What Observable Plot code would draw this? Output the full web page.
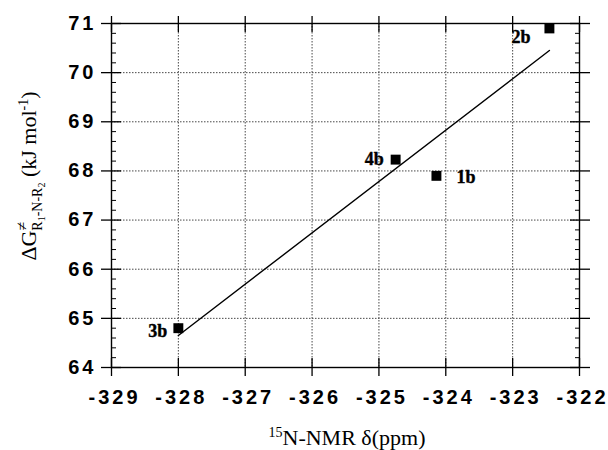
<!DOCTYPE html>
<html><head><meta charset="utf-8">
<script src="https://cdn.jsdelivr.net/npm/d3@7"></script>
<script src="https://cdn.jsdelivr.net/npm/@observablehq/plot@0.6"></script>
<style>body{margin:0;background:#fff}</style>
</head><body><div id="chart"></div>
<script>
// Data
const compounds = ["1b", "2b", "3b", "4b"];
const shifts = [-324.14, -322.45, -328.0, -324.75];   // 15N-NMR δ (ppm)
const dG = [67.9, 70.9, 64.8, 68.23];                 // ΔG≠ (kJ/mol)
const fitX = [-328.0, -322.45];
const fitY = [64.65, 70.45];
const xTicks = [-329, -328, -327, -326, -325, -324, -323, -322];
const yTicks = [64, 65, 66, 67, 68, 69, 70, 71];
const yMinor = [64.2, 64.4, 64.6, 64.8, 65.2, 65.4, 65.6, 65.8, 66.2, 66.4, 66.6, 66.8,
  67.2, 67.4, 67.6, 67.8, 68.2, 68.4, 68.6, 68.8, 69.2, 69.4, 69.6, 69.8, 70.2, 70.4, 70.6, 70.8];

const pts = compounds.map((c, i) => ({c, x: shifts[i], y: dG[i]}));
const fit = fitX.map((x, i) => ({x, y: fitY[i]}));

const sans = "Liberation Sans, Arial, sans-serif";
const serif = "Liberation Serif, Times New Roman, serif";
const gridStyle = {stroke: "#333", strokeOpacity: 1, strokeWidth: 0.9, strokeDasharray: "1.5,1.5"};
const lab = (name, opts) => Plot.text(pts, {filter: d => d.c === name, x: "x", y: "y", text: "c",
  fontFamily: serif, fontWeight: "bold", fontSize: 18, fill: "#000", stroke: "#000", strokeWidth: 0.4, ...opts});
const hyphen = d => String(d);

const plot = Plot.plot({
  width: 608, height: 450,
  marginLeft: 111, marginRight: 29, marginTop: 23, marginBottom: 83,
  x: {domain: [-329, -322]},
  y: {domain: [64, 71]},
  style: {background: "#fff", color: "#000", fontFamily: sans},
  marks: [
    Plot.gridX(xTicks.slice(1, -1), gridStyle),
    Plot.gridY(yTicks.slice(1, -1), gridStyle),
    Plot.frame({stroke: "#000", strokeWidth: 1.4}),
    // left axis
    Plot.axisY(yMinor, {anchor: "left", tickSize: 5, dx: 5, tickFormat: () => "", label: null}),
    Plot.axisY(yTicks, {anchor: "left", tickSize: 20, dx: 10, strokeWidth: 1.3, tickFormat: () => "", label: null}),
    Plot.axisY(yTicks, {anchor: "left", tickSize: 0, tickPadding: 15, fontSize: 20, fontWeight: "bold", tickFormat: hyphen, label: null}),
    // right axis
    Plot.axisY(yMinor, {anchor: "right", tickSize: 5, dx: -5, tickFormat: () => "", label: null}),
    Plot.axisY(yTicks, {anchor: "right", tickSize: 20, dx: -10, strokeWidth: 1.3, tickFormat: () => "", label: null}),
    // bottom axis
    Plot.axisX(xTicks, {anchor: "bottom", tickSize: 18, dy: -9, strokeWidth: 1.3, tickFormat: () => "", label: null}),
    Plot.axisX(xTicks, {anchor: "bottom", tickSize: 0, tickPadding: 22, dx: 3, fontSize: 20, fontWeight: "bold", tickFormat: hyphen, label: null}),
    // top axis
    Plot.axisX(xTicks, {anchor: "top", tickSize: 16, dy: 8, strokeWidth: 1.3, tickFormat: () => "", label: null}),
    // fit line and points
    Plot.line(fit, {x: "x", y: "y", stroke: "#000", strokeWidth: 1.4}),
    Plot.dot(pts, {x: "x", y: "y", symbol: "square", r: 5.6, fill: "#000", stroke: "none"}),
    lab("2b", {textAnchor: "end", dx: -19, dy: 9}),
    lab("4b", {textAnchor: "end", dx: -12, dy: 0}),
    lab("1b", {textAnchor: "start", dx: 20, dy: 1}),
    lab("3b", {textAnchor: "end", dx: -11, dy: 3})
  ]
});

const svg = d3.select(plot);
svg.selectAll("g[aria-label='y-axis tick label'] text, g[aria-label='x-axis tick label'] text")
  .style("letter-spacing", "3px");

// y-axis title
const yt = svg.append("text")
  .attr("transform", "translate(36,176) rotate(-90)")
  .attr("text-anchor", "middle")
  .attr("font-family", serif).attr("font-size", 22).attr("fill", "#000");
yt.append("tspan").text("ΔG");
yt.append("tspan").attr("dy", -9).attr("font-size", 16).text("≠");
yt.append("tspan").attr("dy", 15).attr("dx", -9).attr("font-size", 14).text("R");
yt.append("tspan").attr("dy", 3).attr("font-size", 10).text("1");
yt.append("tspan").attr("dy", -3).attr("font-size", 14).text("-N-R");
yt.append("tspan").attr("dy", 3).attr("font-size", 10).text("2");
yt.append("tspan").attr("dy", -9).attr("font-size", 22).text(" (kJ mol");
yt.append("tspan").attr("dy", -8).attr("font-size", 14).text("-1");
yt.append("tspan").attr("dy", 8).attr("font-size", 22).text(")");

// x-axis title
const xt = svg.append("text")
  .attr("x", 347).attr("y", 445)
  .attr("text-anchor", "middle")
  .attr("font-family", serif).attr("font-size", 22).attr("fill", "#000");
xt.append("tspan").attr("dy", -8).attr("font-size", 14).text("15");
xt.append("tspan").attr("dy", 8).text("N-NMR δ(ppm)");

document.getElementById("chart").appendChild(plot);
</script>
</body></html>
